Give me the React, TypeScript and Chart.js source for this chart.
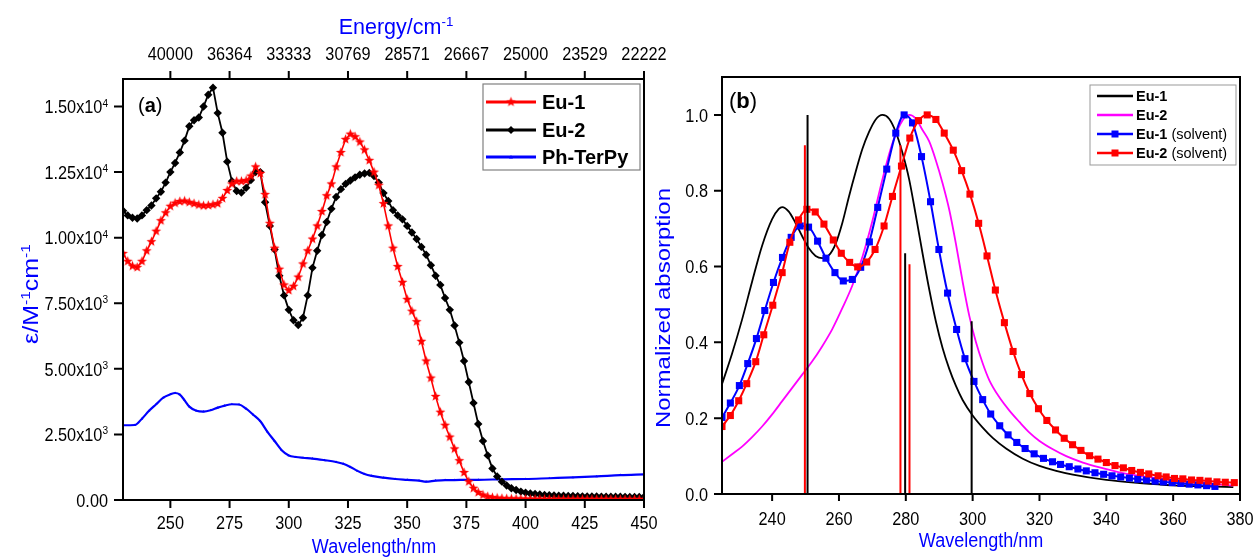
import React, { useEffect, useRef } from 'react';
import { Chart, registerables } from 'chart.js';

Chart.register(...registerables);

const FONT = "'Liberation Sans', Arial, sans-serif";
const TITLE_BLUE = '#0000ff';

// ---------------- Panel (a): molar absorptivity ----------------
const wavelengthA = [
  230, 232, 234, 236, 238, 240, 242, 244, 246, 248,
  250, 252, 254, 256, 258, 260, 262, 264, 266, 268,
  270, 272, 274, 276, 278, 280, 282, 284, 286, 288,
  290, 292, 294, 296, 298, 300, 302, 304, 306, 308,
  310, 312, 314, 316, 318, 320, 322, 324, 326, 328,
  330, 332, 334, 336, 338, 340, 342, 344, 346, 348,
  350, 352, 354, 356, 358, 360, 362, 364, 366, 368,
  370, 372, 374, 376, 378, 380, 382, 384, 386, 388,
  390, 392, 394, 396, 398, 400, 402, 404, 406, 408,
  410, 412, 414, 416, 418, 420, 422, 424, 426, 428,
  430, 432, 434, 436, 438, 440, 442, 444, 446, 448,
  450,
];
const eu1Epsilon = [
  9400, 9100, 8920, 8870, 9100, 9500, 9850, 10250, 10650, 10950,
  11200, 11320, 11380, 11400, 11350, 11300, 11250, 11220, 11230, 11260,
  11300, 11500, 11800, 12050, 12150, 12150, 12180, 12350, 12700, 12450,
  11650, 10550, 9600, 8800, 8200, 7990, 8150, 8500, 9000, 9500,
  9950, 10450, 11000, 11600, 12050, 12700, 13250, 13750, 13950, 13850,
  13650, 13350, 12950, 12500, 12000, 11300, 10450, 9600, 8900, 8300,
  7650, 7200, 6800, 6050, 5300, 4650, 3950, 3350, 2850, 2400,
  1950, 1500, 1050, 700, 450, 290, 190, 130, 95, 75,
  60, 50, 45, 40, 38, 35, 33, 32, 30, 30,
  28, 28, 27, 26, 26, 25, 25, 24, 24, 23,
  23, 22, 22, 22, 21, 21, 20, 20, 20, 19,
  19,
];
const eu2Epsilon = [
  11030, 10850, 10760, 10730, 10850, 11050, 11230, 11500, 11750, 12100,
  12500, 12850, 13250, 13700, 14250, 14480, 14580, 15000, 15450, 15720,
  14750, 14000, 12900, 12150, 11780, 11720, 11900, 12200, 12500, 12500,
  11350, 10450, 9550, 8550, 7800, 7250, 6850, 6670, 6950, 7800,
  8850, 9500, 10100, 10600, 11100, 11550, 11850, 12050, 12180, 12300,
  12400, 12450, 12470, 12350, 12100, 11700, 11400, 11050, 10850, 10700,
  10450, 10200, 9950, 9650, 9350, 8950, 8550, 8200, 7700, 7250,
  6650, 6000, 5300, 4500, 3700, 2900, 2250, 1700, 1200, 900,
  700, 550, 450, 380, 320, 280, 250, 230, 210, 195,
  185, 175, 165, 160, 155, 150, 145, 140, 138, 135,
  132, 130, 128, 126, 124, 122, 120, 118, 116, 115,
  114,
];
const phTerPyWavelength = [
  230, 235, 238, 241, 244, 247, 250, 252, 254, 256,
  258, 261, 264, 267, 270, 273, 276, 279, 282, 285,
  288, 291, 294, 297, 300, 303, 306, 310, 315, 320,
  323, 326, 329, 332, 335, 340, 345, 350, 355, 358,
  362, 366, 370, 375, 380, 390, 400, 410, 420, 430,
  440, 450,
];
const phTerPyEpsilon = [
  2850, 2860, 3100, 3400, 3650, 3900, 4030, 4080, 4020, 3800,
  3560, 3400, 3370, 3420, 3520, 3600, 3650, 3640, 3480, 3250,
  3000, 2600, 2250, 1900, 1700, 1640, 1610, 1580, 1520, 1450,
  1380, 1260, 1110, 990, 920, 850, 800, 770, 740, 700,
  740, 760, 760, 770, 770, 790, 800, 830, 860, 900,
  950, 980,
];
const xTicksA = [250, 275, 300, 325, 350, 375, 400, 425, 450];
const energyTickLabels = ['40000', '36364', '33333', '30769', '28571', '26667', '25000', '23529', '22222'];
const yTicksA = [0, 2500, 5000, 7500, 10000, 12500, 15000];
const yTickMantissaA = ['0.00', '2.50x10', '5.00x10', '7.50x10', '1.00x10', '1.25x10', '1.50x10'];
const yTickExponentA = ['', '3', '3', '3', '4', '4', '4'];
const legendLabelsA = ['Eu-1', 'Eu-2', 'Ph-TerPy'];

// ---------------- Panel (b): normalized absorption ----------------
const calcEu1X = [225, 228, 231, 234, 237, 240, 242, 243, 245, 247, 249, 251, 253, 255, 257, 259, 261, 263, 265, 267, 269, 271, 273, 275, 277, 279, 281, 283, 285, 287, 289, 291, 293, 295, 297, 300, 303, 306, 310, 315, 320, 325, 330, 340, 350, 360, 370, 378];
const calcEu1Y = [0.29, 0.37, 0.46, 0.56, 0.655, 0.725, 0.752, 0.757, 0.745, 0.715, 0.68, 0.648, 0.628, 0.622, 0.63, 0.66, 0.715, 0.785, 0.85, 0.91, 0.955, 0.988, 1.0, 0.99, 0.955, 0.9, 0.83, 0.735, 0.635, 0.54, 0.455, 0.385, 0.33, 0.285, 0.248, 0.207, 0.175, 0.148, 0.12, 0.093, 0.074, 0.061, 0.051, 0.037, 0.029, 0.023, 0.02, 0.018];
const calcEu2X = [225, 228, 231, 234, 237, 240, 243, 246, 249, 252, 255, 258, 261, 264, 267, 270, 273, 276, 279, 281, 283, 285, 287, 289, 291, 293, 295, 297, 299, 301, 303, 305, 308, 311, 314, 317, 320, 324, 328, 333, 338, 345, 352, 360, 370, 378];
const calcEu2Y = [0.085, 0.105, 0.125, 0.15, 0.178, 0.21, 0.245, 0.28, 0.315, 0.35, 0.39, 0.435, 0.49, 0.55, 0.625, 0.72, 0.83, 0.925, 0.985, 1.0, 0.99, 0.96, 0.93, 0.88, 0.82, 0.75, 0.66, 0.56, 0.47, 0.4, 0.345, 0.3, 0.255, 0.22, 0.19, 0.162, 0.14, 0.118, 0.1, 0.083, 0.07, 0.055, 0.045, 0.036, 0.028, 0.022];
const solvEu1X = [225, 227.5, 230.2, 232.7, 235.3, 237.8, 240.4, 243.1, 245.7, 248.4, 250.9, 253.6, 256.1, 258.8, 261.3, 264, 266.5, 269.1, 271.6, 274.3, 277, 279.5, 282, 284.7, 287.4, 289.9, 292.5, 295.2, 297.7, 300.4, 303, 305.4, 308.1, 310.6, 313.2, 315.7, 318.4, 321.2, 323.9, 326.3, 328.9, 331.5, 334, 336.6, 339.2, 341.7, 344.3, 346.9, 349.4, 352, 354.6, 357.1, 359.7, 362.3, 364.8, 367.4, 370, 372.5];
const solvEu1Y = [0.202, 0.24, 0.286, 0.344, 0.41, 0.484, 0.558, 0.624, 0.677, 0.707, 0.704, 0.667, 0.622, 0.584, 0.562, 0.566, 0.598, 0.665, 0.756, 0.857, 0.952, 1.0, 0.979, 0.89, 0.771, 0.645, 0.53, 0.434, 0.357, 0.297, 0.249, 0.211, 0.18, 0.156, 0.136, 0.12, 0.106, 0.094, 0.085, 0.078, 0.072, 0.066, 0.061, 0.056, 0.052, 0.048, 0.045, 0.042, 0.039, 0.037, 0.034, 0.032, 0.03, 0.028, 0.026, 0.024, 0.022, 0.02];
const solvEu2X = [225, 227.5, 230, 232.4, 235.1, 237.5, 240.2, 243, 245.3, 247.9, 250.4, 252.9, 255.5, 258.3, 260.7, 263.2, 265.6, 268.3, 270.8, 273.5, 276, 278.7, 281.2, 283.8, 286.4, 289, 291.5, 294.2, 296.7, 299.2, 301.8, 304.3, 306.8, 309.5, 312.1, 314.6, 317.1, 319.7, 322.2, 324.8, 327.4, 329.9, 332.4, 335, 337.5, 340, 342.6, 345.1, 347.6, 350.2, 352.7, 355.5, 357.9, 360.4, 362.9, 365.5, 368, 370.5, 373.1, 375.6, 378.3];
const solvEu2Y = [0.178, 0.207, 0.246, 0.291, 0.349, 0.42, 0.498, 0.584, 0.664, 0.723, 0.751, 0.744, 0.712, 0.67, 0.635, 0.611, 0.599, 0.612, 0.645, 0.707, 0.785, 0.865, 0.939, 0.985, 1.0, 0.988, 0.952, 0.907, 0.853, 0.791, 0.714, 0.628, 0.538, 0.452, 0.376, 0.315, 0.265, 0.225, 0.194, 0.169, 0.147, 0.13, 0.115, 0.101, 0.092, 0.083, 0.075, 0.069, 0.062, 0.057, 0.053, 0.048, 0.045, 0.041, 0.04, 0.037, 0.036, 0.034, 0.032, 0.031, 0.03];
const stickEu1X = [250.6, 279.8, 299.7];
const stickEu1H = [1.0, 0.635, 0.456];
const stickEu2X = [249.8, 278.4, 281.1];
const stickEu2H = [0.92, 0.92, 0.606];
const xTicksB = [240, 260, 280, 300, 320, 340, 360, 380];
const yTicksB = [0, 0.2, 0.4, 0.6, 0.8, 1.0];
const yTickLabelsB = ['0.0', '0.2', '0.4', '0.6', '0.8', '1.0'];
const legendNamesB = ['Eu-1', 'Eu-2', 'Eu-1', 'Eu-2'];
const legendSuffixB = ['', '', ' (solvent)', ' (solvent)'];

// ---------------- helpers ----------------
type Run = { t: string; sup?: boolean; bold?: boolean };

function runFont(r: Run, size: number) {
  const s = r.sup ? size * 0.62 : size;
  return `${r.bold ? 'bold ' : ''}${s}px ${FONT}`;
}

function drawRuns(
  ctx: CanvasRenderingContext2D,
  runs: Run[],
  x: number,
  y: number,
  size: number,
  color: string,
  align: 'left' | 'center' | 'right',
  sx = 1,
  rotate = false
) {
  ctx.save();
  ctx.fillStyle = color;
  ctx.translate(x, y);
  ctx.scale(sx, 1);
  if (rotate) ctx.rotate(-Math.PI / 2);
  ctx.textAlign = 'left';
  ctx.textBaseline = 'alphabetic';
  let total = 0;
  const widths = runs.map((r) => {
    ctx.font = runFont(r, size);
    const w = ctx.measureText(r.t).width;
    total += w;
    return w;
  });
  let cx = align === 'left' ? 0 : align === 'center' ? -total / 2 : -total;
  const base = size * 0.36;
  runs.forEach((r, i) => {
    ctx.font = runFont(r, size);
    ctx.fillText(r.t, cx, r.sup ? base - size * 0.36 : base);
    cx += widths[i];
  });
  ctx.restore();
}

function makeStar(color: string, outer: number, inner: number) {
  const c = document.createElement('canvas');
  const s = Math.ceil(outer * 2 + 2);
  c.width = s;
  c.height = s;
  const g = c.getContext('2d')!;
  g.fillStyle = color;
  g.beginPath();
  for (let i = 0; i < 10; i++) {
    const r = i % 2 === 0 ? outer : inner;
    const a = -Math.PI / 2 + (i * Math.PI) / 5;
    const px = s / 2 + r * Math.cos(a);
    const py = s / 2 + r * Math.sin(a);
    if (i === 0) g.moveTo(px, py);
    else g.lineTo(px, py);
  }
  g.closePath();
  g.fill();
  return c;
}

function pairs(xs: number[], ys: number[]) {
  return xs.map((x, i) => ({ x, y: ys[i] }));
}

function sticks(xs: number[], hs: number[]) {
  const out: { x: number; y: number | null }[] = [];
  xs.forEach((x, i) => {
    out.push({ x, y: 0 }, { x, y: hs[i] }, { x, y: null });
  });
  return out;
}

const SX = 0.88;
const B_OFF = 640;

export default function App() {
  const refA = useRef<HTMLCanvasElement>(null);
  const refB = useRef<HTMLCanvasElement>(null);

  useEffect(() => {
    const star = makeStar('#ff0000', 5.2, 2.2);

    const panelAPlugin = {
      id: 'panelA',
      afterDraw(chart: any) {
        const ctx: CanvasRenderingContext2D = chart.ctx;
        const { left, right, top, bottom } = chart.chartArea;
        const xs = chart.scales.x;
        const ys = chart.scales.y;
        ctx.save();
        ctx.strokeStyle = '#000';
        ctx.lineWidth = 2;
        ctx.strokeRect(left, top, right - left, bottom - top);
        ctx.beginPath();
        xTicksA.forEach((v) => {
          const p = xs.getPixelForValue(v);
          ctx.moveTo(p, bottom);
          ctx.lineTo(p, bottom + 8);
          ctx.moveTo(p, top);
          ctx.lineTo(p, top - 8);
        });
        yTicksA.forEach((v) => {
          const p = ys.getPixelForValue(v);
          ctx.moveTo(left, p);
          ctx.lineTo(left - 9, p);
        });
        ctx.stroke();
        ctx.restore();

        xTicksA.forEach((v, i) => {
          const p = xs.getPixelForValue(v);
          drawRuns(ctx, [{ t: String(v) }], p, bottom + 22, 18.5, '#000', 'center', SX);
          drawRuns(ctx, [{ t: energyTickLabels[i] }], p, top - 26, 18.5, '#000', 'center', SX);
        });
        yTicksA.forEach((v, i) => {
          const p = ys.getPixelForValue(v);
          const runs: Run[] = [{ t: yTickMantissaA[i] }];
          if (yTickExponentA[i]) runs.push({ t: yTickExponentA[i], sup: true });
          drawRuns(ctx, runs, left - 15, p, 18.5, '#000', 'right', SX);
        });

        // axis titles
        drawRuns(ctx, [{ t: 'Wavelength/nm' }], 374, 546, 20, TITLE_BLUE, 'center', 0.9);
        drawRuns(ctx, [{ t: 'Energy/cm' }, { t: '-1', sup: true }], 396, 26, 21.5, TITLE_BLUE, 'center', 1);
        drawRuns(
          ctx,
          [{ t: 'ε/M' }, { t: '-1', sup: true }, { t: 'cm' }, { t: '-1', sup: true }],
          30, 294, 25, TITLE_BLUE, 'center', SX, true
        );

        // panel label
        drawRuns(ctx, [{ t: '(' }, { t: 'a', bold: true }, { t: ')' }], 138, 105, 20, '#000', 'left', 1);

        // legend
        ctx.save();
        ctx.fillStyle = '#fff';
        ctx.fillRect(483, 84, 157, 86);
        ctx.strokeStyle = '#808080';
        ctx.lineWidth = 1.2;
        ctx.strokeRect(483, 84, 157, 86);
        const rows = [102, 130, 157];
        const cols = ['#ff0000', '#000000', '#0000ff'];
        rows.forEach((y, i) => {
          ctx.strokeStyle = cols[i];
          ctx.lineWidth = 3;
          ctx.beginPath();
          ctx.moveTo(486, y);
          ctx.lineTo(536, y);
          ctx.stroke();
          const mx = 511;
          if (i === 0) {
            ctx.drawImage(star, mx - star.width / 2, y - star.height / 2);
          } else if (i === 1) {
            ctx.fillStyle = '#000';
            ctx.beginPath();
            ctx.moveTo(mx - 4, y);
            ctx.lineTo(mx, y - 4);
            ctx.lineTo(mx + 4, y);
            ctx.lineTo(mx, y + 4);
            ctx.closePath();
            ctx.fill();
          } else {
            ctx.fillStyle = '#0000ff';
            ctx.beginPath();
            ctx.moveTo(mx, y - 2);
            ctx.lineTo(mx + 2, y + 1.5);
            ctx.lineTo(mx - 2, y + 1.5);
            ctx.closePath();
            ctx.fill();
          }
          drawRuns(ctx, [{ t: legendLabelsA[i], bold: true }], 542, y, 20, '#000', 'left', 1);
        });
        ctx.restore();
      },
    };

    const panelBPlugin = {
      id: 'panelB',
      afterDraw(chart: any) {
        const ctx: CanvasRenderingContext2D = chart.ctx;
        const { left, right, top, bottom } = chart.chartArea;
        const xs = chart.scales.x;
        const ys = chart.scales.y;
        ctx.save();
        ctx.strokeStyle = '#000';
        ctx.lineWidth = 2;
        ctx.strokeRect(left, top, right - left, bottom - top);
        ctx.beginPath();
        xTicksB.forEach((v) => {
          const p = xs.getPixelForValue(v);
          ctx.moveTo(p, bottom);
          ctx.lineTo(p, bottom + 7);
        });
        yTicksB.forEach((v) => {
          const p = ys.getPixelForValue(v);
          ctx.moveTo(left, p);
          ctx.lineTo(left - 8, p);
        });
        ctx.stroke();
        ctx.restore();

        xTicksB.forEach((v) => {
          const p = xs.getPixelForValue(v);
          drawRuns(ctx, [{ t: String(v) }], p, bottom + 24, 18.5, '#000', 'center', SX);
        });
        yTicksB.forEach((v, i) => {
          const p = ys.getPixelForValue(v);
          drawRuns(ctx, [{ t: yTickLabelsB[i] }], left - 14, p, 18.5, '#000', 'right', SX);
        });

        drawRuns(ctx, [{ t: 'Wavelength/nm' }], 981 - B_OFF, 540, 20, TITLE_BLUE, 'center', 0.9);
        drawRuns(ctx, [{ t: 'Normalized absorption' }], 662 - B_OFF, 308, 24, TITLE_BLUE, 'center', SX, true);
        drawRuns(ctx, [{ t: '(' }, { t: 'b', bold: true }, { t: ')' }], 729 - B_OFF, 100, 22, '#000', 'left', 1);

        // legend
        ctx.save();
        const bx = 1090 - B_OFF;
        ctx.fillStyle = '#fff';
        ctx.fillRect(bx, 85, 146, 80);
        ctx.strokeStyle = '#999';
        ctx.lineWidth = 1;
        ctx.strokeRect(bx, 85, 146, 80);
        const rows = [96, 115, 134, 153];
        const cols = ['#000000', '#ff00ff', '#0000ff', '#ff0000'];
        rows.forEach((y, i) => {
          ctx.strokeStyle = cols[i];
          ctx.lineWidth = 2.5;
          ctx.beginPath();
          ctx.moveTo(1097 - B_OFF, y);
          ctx.lineTo(1133 - B_OFF, y);
          ctx.stroke();
          if (i >= 2) {
            ctx.fillStyle = cols[i];
            ctx.fillRect(1115 - B_OFF - 3.5, y - 3.5, 7, 7);
          }
          const runs: Run[] = [{ t: legendNamesB[i], bold: true }];
          if (legendSuffixB[i]) runs.push({ t: legendSuffixB[i] });
          drawRuns(ctx, runs, 1136 - B_OFF, y, 14.5, '#000', 'left', 1);
        });
        ctx.restore();
      },
    };

    const chartA = new Chart(refA.current!, {
      type: 'line',
      data: {
        datasets: [
          {
            label: 'Eu-1',
            data: pairs(wavelengthA, eu1Epsilon),
            borderColor: '#ff0000',
            backgroundColor: '#ff0000',
            borderWidth: 1.6,
            pointStyle: star as any,
            pointRadius: 4,
            pointBorderWidth: 0,
          },
          {
            label: 'Eu-2',
            data: pairs(wavelengthA, eu2Epsilon),
            borderColor: '#000000',
            backgroundColor: '#000000',
            borderWidth: 1.8,
            pointStyle: 'rectRot',
            pointRadius: 4.2,
            pointBorderWidth: 0,
          },
          {
            label: 'Ph-TerPy',
            data: pairs(phTerPyWavelength, phTerPyEpsilon),
            borderColor: '#0000ff',
            backgroundColor: '#0000ff',
            borderWidth: 2.2,
            pointStyle: 'triangle',
            pointRadius: 1.5,
            pointBorderWidth: 0,
            cubicInterpolationMode: 'monotone',
          },
        ] as any,
      },
      options: {
        responsive: false,
        animation: false,
        events: [],
        layout: { padding: { left: 123, right: 36, top: 79, bottom: 57 } },
        plugins: { legend: { display: false }, tooltip: { enabled: false } },
        scales: {
          x: { type: 'linear', min: 230, max: 450, display: false },
          y: { type: 'linear', min: 0, max: 16050, display: false },
        },
      },
      plugins: [panelAPlugin],
    });

    const chartB = new Chart(refB.current!, {
      type: 'line',
      data: {
        datasets: [
          {
            label: 'Eu-1 transitions',
            data: sticks(stickEu1X, stickEu1H),
            borderColor: '#000000',
            borderWidth: 2,
            pointRadius: 0,
            spanGaps: false,
          },
          {
            label: 'Eu-2 transitions',
            data: sticks(stickEu2X, stickEu2H),
            borderColor: '#ff0000',
            borderWidth: 2,
            pointRadius: 0,
            spanGaps: false,
          },
          {
            label: 'Eu-2 (solvent)',
            data: pairs(solvEu2X, solvEu2Y),
            borderColor: '#ff0000',
            backgroundColor: '#ff0000',
            borderWidth: 2,
            pointStyle: 'rect',
            pointRadius: 5,
            pointBorderWidth: 0,
            cubicInterpolationMode: 'monotone',
          },
          {
            label: 'Eu-1 (solvent)',
            data: pairs(solvEu1X, solvEu1Y),
            borderColor: '#0000ff',
            backgroundColor: '#0000ff',
            borderWidth: 2,
            pointStyle: 'rect',
            pointRadius: 5,
            pointBorderWidth: 0,
            cubicInterpolationMode: 'monotone',
          },
          {
            label: 'Eu-2',
            data: pairs(calcEu2X, calcEu2Y),
            borderColor: '#ff00ff',
            borderWidth: 1.8,
            pointRadius: 0,
            cubicInterpolationMode: 'monotone',
          },
          {
            label: 'Eu-1',
            data: pairs(calcEu1X, calcEu1Y),
            borderColor: '#000000',
            borderWidth: 1.8,
            pointRadius: 0,
            cubicInterpolationMode: 'monotone',
          },
        ] as any,
      },
      options: {
        responsive: false,
        animation: false,
        events: [],
        layout: { padding: { left: 82, right: 17, top: 77, bottom: 63 } },
        plugins: { legend: { display: false }, tooltip: { enabled: false } },
        scales: {
          x: { type: 'linear', min: 225, max: 380, display: false },
          y: { type: 'linear', min: 0, max: 1.1, display: false },
        },
      },
      plugins: [panelBPlugin],
    });

    return () => {
      chartA.destroy();
      chartB.destroy();
    };
  }, []);

  return (
    <div style={{ position: 'fixed', left: 0, top: 0, width: 1257, height: 557, background: '#fff', overflow: 'hidden' }}>
      <canvas ref={refA} width={680} height={557} style={{ position: 'absolute', left: 0, top: 0, width: 680, height: 557 }} />
      <canvas ref={refB} width={617} height={557} style={{ position: 'absolute', left: B_OFF, top: 0, width: 617, height: 557 }} />
    </div>
  );
}
